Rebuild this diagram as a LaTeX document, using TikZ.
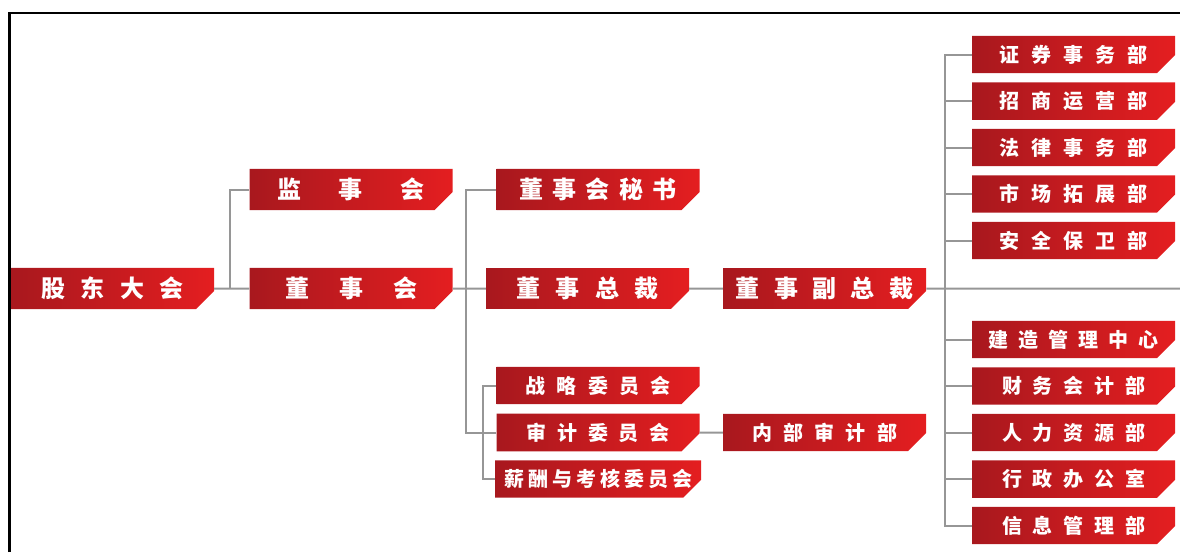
\documentclass[tikz,border=0pt]{standalone}
\usepackage{fontspec}
\newfontfamily\cjk{Noto Sans CJK SC}
\usetikzlibrary{shapes.misc}
\definecolor{boxdark}{RGB}{168,24,30}
\definecolor{boxlight}{RGB}{228,30,32}
\definecolor{linegray}{RGB}{150,150,150}
\newcommand{\spread}[2]{\makebox[#1pt][s]{#2}}

\begin{document}
\begin{tikzpicture}[x=1pt, y=-1pt,
    unit/.style={chamfered rectangle, chamfered rectangle corners=south east,
      chamfered rectangle xsep=9pt, chamfered rectangle ysep=9pt,
      left color=boxdark, right color=boxlight, draw=none, inner sep=0pt,
      minimum width=203pt, minimum height=35pt, text=white},
    big/.style={unit, font=\cjk\bfseries\fontsize{24}{24}\selectfont},
    mid/.style={unit, font=\cjk\bfseries\fontsize{20}{20}\selectfont},
    small/.style={unit, font=\cjk\bfseries\fontsize{20}{20}\selectfont},
    link/.style={draw=linegray, line width=2pt}]
    \useasboundingbox (0,0) rectangle (1180,552);
    \draw[line width=2.5pt] (9.5,552) -- (9.5,13) -- (1180,13);

    % left part
    \node[big] (gd) at (112.5,288.5){\spread{142}{股 东 大 会}};
    \node[big] (jsh) at (351,189.5){\spread{147}{监 事 会}};
    \node[big] (dsh) at (351,288.5){\spread{132}{董 事 会}};
    \coordinate (b1) at (230,288.5);
    \draw[link] (gd) -- (dsh);
    \draw[link] (jsh.west) -| (b1);

    % board
    \node[big] (ms) at (598,189.5){\spread{157}{董 事 会 秘 书}};
    \node[big] (zc) at (587.5,288.5){\spread{143}{董 事 总 裁}};
    \node[big] (fzc) at (824.5,288.5){\spread{178}{董 事 副 总 裁}};
    \node[mid] (zl) at (598,385.5){\spread{145}{战 略 委 员 会}};
    \node[mid] (sj) at (598,432.5){\spread{143}{审 计 委 员 会}};
    \node[mid] (xc) at (598,479){\spread{188}{薪 酬 与 考 核 委 员 会}};
    \node[mid] (nb) at (824.5,432.5){\spread{145}{内 部 审 计 部}};
    \coordinate (b2) at (466,432.5);
    \coordinate (b3) at (483,432.5);
    \draw[link] (dsh) -- (zc);
    \draw[link] (ms.west) -| (b2) -- (sj.west);
    \draw[link] (zl.west) -| (b3) |- (xc.west);
    \draw[link] (zc) -- (fzc);
    \draw[link] (sj) -- (nb);

    % departments
    \foreach \name/\y/\w/\txt in {r1/54.5/148/证 券 事 务 部, r2/101/148/招 商 运 营 部,
        r3/147.5/148/法 律 事 务 部, r4/194/148/市 场 拓 展 部, r5/240.5/148/安 全 保 卫 部,
        r6/339.5/170/建 造 管 理 中 心, r7/386/143/财 务 会 计 部, r8/432.5/143/人 力 资 源 部,
        r9/479/143/行 政 办 公 室, r10/525.5/143/信 息 管 理 部}
      \node[small] (\name) at (1073.5,\y){\spread{\w}{\txt}};
    \coordinate (b4) at (945,288.5);
    \coordinate (r) at (1180,288.5);
    \draw[link] (fzc) -- (r);
    \draw[link] (r1.west) -| (b4) |- (r10.west);
    \foreach \name in {r2,r3,r4,r5,r6,r7,r8,r9}
      \draw[link] (\name.west) -- (\name.west -| b4);
\end{tikzpicture}
\end{document}
